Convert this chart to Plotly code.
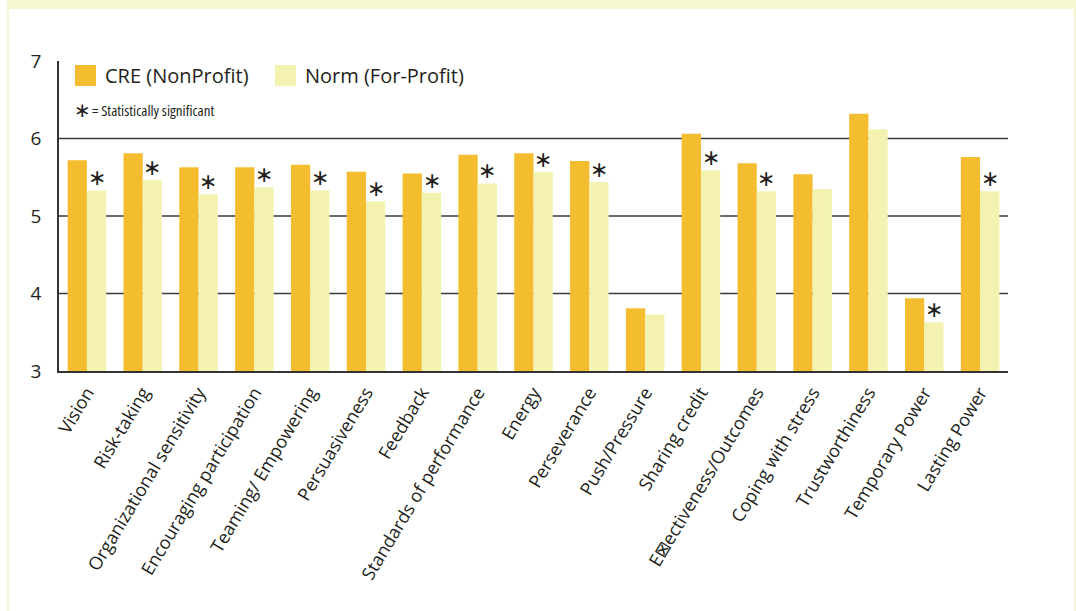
import plotly.graph_objects as go

categories = ["Vision", "Risk-taking", "Organizational sensitivity", "Encouraging participation",
              "Teaming/ Empowering", "Persuasiveness", "Feedback", "Standards of performance",
              "Energy", "Perseverance", "Push/Pressure", "Sharing credit",
              "E\u22a0ectiveness/Outcomes", "Coping with stress", "Trustworthiness",
              "Temporary Power", "Lasting Power"]
cre_values = [5.72, 5.81, 5.63, 5.63, 5.66, 5.57, 5.55, 5.79, 5.81, 5.71, 3.81, 6.06, 5.68, 5.54, 6.32, 3.94, 5.76]
norm_values = [5.33, 5.46, 5.28, 5.37, 5.33, 5.19, 5.30, 5.42, 5.57, 5.44, 3.73, 5.59, 5.32, 5.35, 6.12, 3.63, 5.32]
significant = [True, True, True, True, True, True, True, True, True, True, False, True, True, False, False, True, True]
series_names = ["CRE (NonProfit)", "Norm (For-Profit)"]
y_ticks = [3, 4, 5, 6, 7]
grid_values = [4, 5, 6]

CRE_COLOR = "#F4BD30"
NORM_COLOR = "#F3F2B1"
FRAME = "#F7F7CF"
INK = "#231F20"
FONT = "Open Sans"

W, H = 1076, 611
L, R, T, B = 59, 68, 61, 240
PW, PH = W - L - R, H - T - B


def px(x):
    return (x - L) / PW


def py(y):
    return (H - B - y) / PH


fig = go.Figure()
fig.add_trace(go.Bar(x=categories, y=cre_values, name=series_names[0],
                     marker=dict(color=CRE_COLOR, line=dict(width=0))))
fig.add_trace(go.Bar(x=categories, y=norm_values, name=series_names[1],
                     marker=dict(color=NORM_COLOR, line=dict(width=0))))

shapes = []
for g in grid_values:
    shapes.append(dict(type="line", xref="paper", yref="y", x0=0, x1=1, y0=g, y1=g,
                       line=dict(color="#3a3a3a", width=1.5), layer="below"))
shapes.append(dict(type="rect", xref="paper", yref="paper", x0=px(7), x1=px(W), y0=py(0), y1=py(9),
                   fillcolor=FRAME, line=dict(width=0), layer="below"))
shapes.append(dict(type="rect", xref="paper", yref="paper", x0=px(7), x1=px(9), y0=py(9), y1=py(H),
                   fillcolor=FRAME, line=dict(width=0), layer="below"))
shapes.append(dict(type="rect", xref="paper", yref="paper", x0=px(1074), x1=px(W), y0=py(9), y1=py(H),
                   fillcolor=FRAME, line=dict(width=0), layer="below"))
shapes.append(dict(type="rect", xref="paper", yref="paper", x0=px(75), x1=px(96), y0=py(65), y1=py(86),
                   fillcolor=CRE_COLOR, line=dict(width=0)))
shapes.append(dict(type="rect", xref="paper", yref="paper", x0=px(275), x1=px(296), y0=py(65), y1=py(86),
                   fillcolor=NORM_COLOR, line=dict(width=0)))

annotations = []
annotations.append(dict(xref="paper", yref="paper", x=px(103), y=py(76), xanchor="left", yanchor="middle",
                        text=series_names[0], showarrow=False,
                        font=dict(family=FONT, size=20, color=INK)))
annotations.append(dict(xref="paper", yref="paper", x=px(303), y=py(76), xanchor="left", yanchor="middle",
                        text=series_names[1], showarrow=False,
                        font=dict(family=FONT, size=20, color=INK)))
annotations.append(dict(xref="paper", yref="paper", x=px(82), y=py(110), xanchor="center", yanchor="middle",
                        text="\u2217", showarrow=False,
                        font=dict(family="DejaVu Sans", size=20, color=INK)))
annotations.append(dict(xref="paper", yref="paper", x=px(90), y=py(110), xanchor="left", yanchor="middle",
                        text="<span style='font-stretch:condensed'>= Statistically significant</span>",
                        showarrow=False,
                        font=dict(family=FONT, size=15, color=INK)))
for cat, v, s in zip(categories, norm_values, significant):
    if s:
        annotations.append(dict(x=cat, y=v, xref="x", yref="y", xshift=9.7, yshift=-2,
                                xanchor="center", yanchor="bottom", text="\u2217", showarrow=False,
                                font=dict(family="DejaVu Sans", size=22, color=INK)))

fig.update_layout(
    width=W, height=H,
    margin=dict(l=L, r=R, t=T, b=B, pad=0),
    paper_bgcolor="white", plot_bgcolor="white",
    barmode="group", bargap=0.31, bargroupgap=0,
    showlegend=False,
    shapes=shapes, annotations=annotations,
    font=dict(family=FONT, color=INK),
    xaxis=dict(type="category", tickangle=-59, showgrid=False, ticks="",
               showline=True, linecolor="#333333", linewidth=2,
               tickfont=dict(family=FONT, size=18, color=INK), ticklabelstandoff=2),
    yaxis=dict(range=[3, 7], tickvals=y_ticks, showgrid=False, zeroline=False,
               showline=True, linecolor="#333333", linewidth=1.5, ticks="",
               tickfont=dict(family=FONT, size=19, color=INK), ticklabelstandoff=12),
)

fig.write_html("out.html", config={"displayModeBar": False},
               post_script="document.body.style.margin='0';document.body.style.overflow='hidden';")
